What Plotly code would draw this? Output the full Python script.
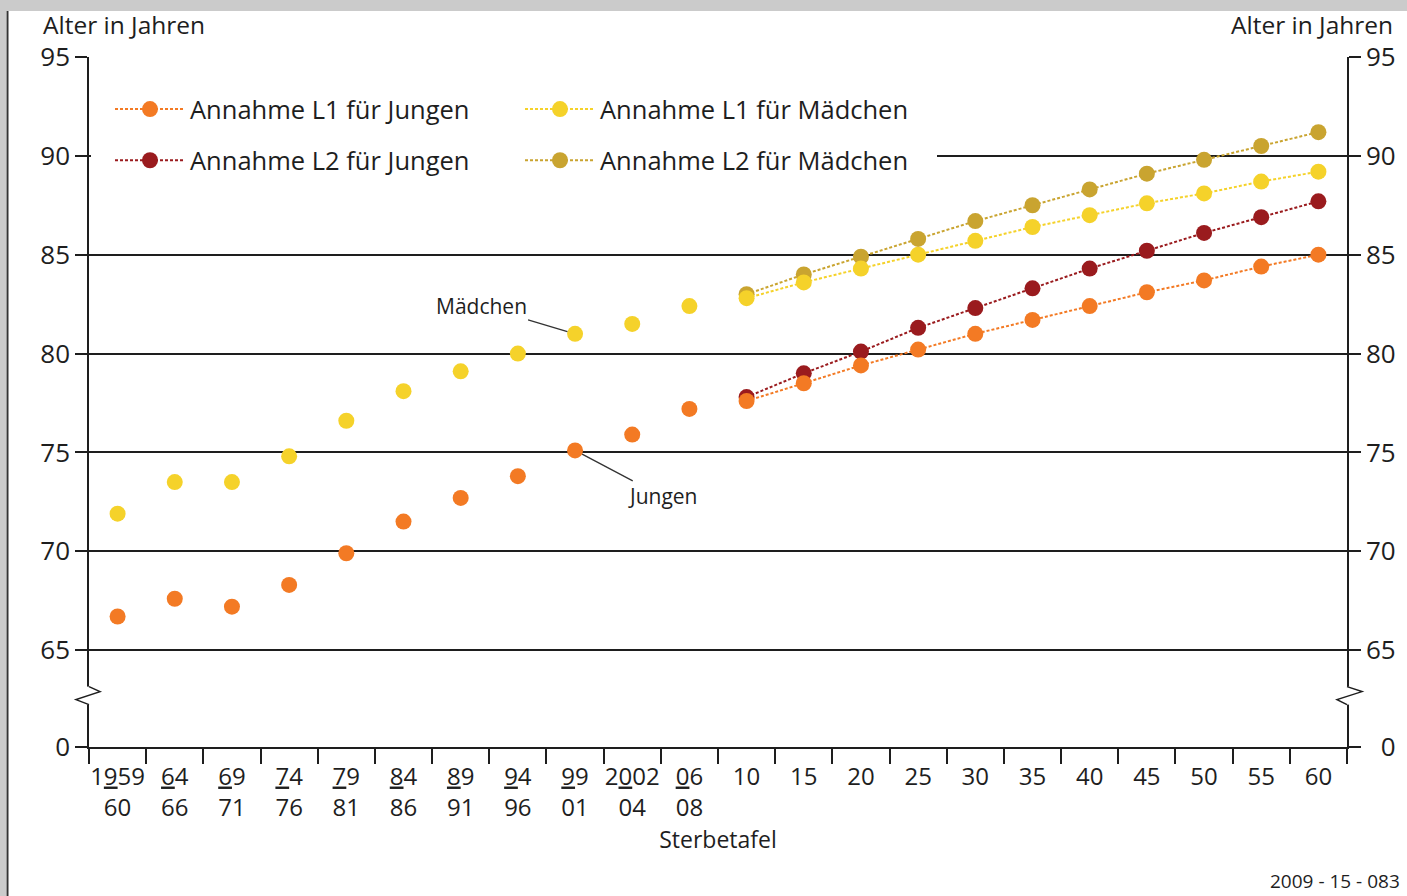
import plotly.graph_objects as go

# ---------------- data ----------------
categories = ["1959/60", "1964/66", "1969/71", "1974/76", "1979/81", "1984/86",
              "1989/91", "1994/96", "1999/01", "2002/04", "2006/08",
              "2010", "2015", "2020", "2025", "2030", "2035", "2040",
              "2045", "2050", "2055", "2060"]
tick_top = ["1959", "64", "69", "74", "79", "84", "89", "94", "99", "2002", "06",
            "10", "15", "20", "25", "30", "35", "40", "45", "50", "55", "60"]
tick_bottom = ["60", "66", "71", "76", "81", "86", "91", "96", "01", "04", "08",
               "", "", "", "", "", "", "", "", "", "", ""]

hist_cats = categories[:11]
jungen_hist = [66.7, 67.6, 67.2, 68.3, 69.9, 71.5, 72.7, 73.8, 75.1, 75.9, 77.2]
maedchen_hist = [71.9, 73.5, 73.5, 74.8, 76.6, 78.1, 79.1, 80.0, 81.0, 81.5, 82.4]

proj_cats = categories[11:]
l1_jungen = [77.6, 78.5, 79.4, 80.2, 81.0, 81.7, 82.4, 83.1, 83.7, 84.4, 85.0]
l2_jungen = [77.8, 79.0, 80.1, 81.3, 82.3, 83.3, 84.3, 85.2, 86.1, 86.9, 87.7]
l1_maedchen = [82.8, 83.6, 84.3, 85.0, 85.7, 86.4, 87.0, 87.6, 88.1, 88.7, 89.2]
l2_maedchen = [83.0, 84.0, 84.9, 85.8, 86.7, 87.5, 88.3, 89.1, 89.8, 90.5, 91.2]

y_tick_vals = [60.1, 65, 70, 75, 80, 85, 90, 95]   # 60.1 = display position of "0" (broken axis)
y_tick_text = ["0", "65", "70", "75", "80", "85", "90", "95"]
y_break = 62.7

# ---------------- styles ----------------
C_J1 = "#f37a24"
C_M1 = "#f5d22a"
C_J2 = "#9a1b1e"
C_M2 = "#c9a430"
INK = "#1e1e1e"
FONT = "'Open Sans', 'Noto Sans', sans-serif"

W, H = 1407, 896
L, R, T, B = 89, 60, 57, 149
PW, PH = W - L - R, H - T - B


def px(xp):
    return (xp - L) / PW


def py(yp):
    return (H - B - yp) / PH


def tick_label(top, bottom):
    if not bottom:
        return top
    i = (len(top) - 1) // 2
    return top[:i] + "<u>" + top[i] + "</u>" + top[i + 1:] + "<br>" + bottom


x_tick_text = [tick_label(a, b) for a, b in zip(tick_top, tick_bottom)]

fig = go.Figure()

fig.add_trace(go.Scatter(x=hist_cats, y=jungen_hist, mode="markers",
                         marker=dict(size=16, color=C_J1), showlegend=False))
fig.add_trace(go.Scatter(x=hist_cats, y=maedchen_hist, mode="markers",
                         marker=dict(size=16, color=C_M1), showlegend=False))

dash = "3px,2px"
fig.add_trace(go.Scatter(x=proj_cats, y=l2_jungen, mode="lines+markers",
                         name="Annahme L2 für Jungen", legend="legend", legendgroup="b",
                         legendrank=2,
                         line=dict(color=C_J2, width=2, dash=dash),
                         marker=dict(size=16, color=C_J2)))
fig.add_trace(go.Scatter(x=proj_cats, y=l2_maedchen, mode="lines+markers",
                         name="Annahme L2 für Mädchen", legend="legend2", legendgroup="d",
                         legendrank=2,
                         line=dict(color=C_M2, width=2, dash=dash),
                         marker=dict(size=16, color=C_M2)))
fig.add_trace(go.Scatter(x=proj_cats, y=l1_jungen, mode="lines+markers",
                         name="Annahme L1 für Jungen", legend="legend", legendgroup="a",
                         legendrank=1,
                         line=dict(color=C_J1, width=2, dash=dash),
                         marker=dict(size=16, color=C_J1)))
# drawn last, on the (identical) right-hand axis so that axis is rendered
fig.add_trace(go.Scatter(x=proj_cats, y=l1_maedchen, mode="lines+markers", yaxis="y2",
                         name="Annahme L1 für Mädchen", legend="legend2", legendgroup="c",
                         legendrank=1,
                         line=dict(color=C_M1, width=2, dash=dash),
                         marker=dict(size=16, color=C_M1)))

axis_common = dict(range=[y_tick_vals[0], 95], tickmode="array", tickvals=y_tick_vals,
                   ticks="outside", ticklen=12, tickwidth=1.5,
                   tickcolor=INK, showline=True, linecolor=INK, linewidth=1.5,
                   tickfont=dict(family=FONT, size=26, color=INK), zeroline=False)

legend_common = dict(xanchor="left", yanchor="top", bgcolor="rgba(0,0,0,0)",
                     itemwidth=70, tracegroupgap=15, traceorder="grouped",
                     font=dict(family=FONT, size=25.5, color=INK))

fig.update_layout(
    width=W, height=H,
    margin=dict(l=L, r=R, t=T, b=B),
    paper_bgcolor="white", plot_bgcolor="white",
    font=dict(family=FONT, color=INK),
    xaxis=dict(type="category", categoryorder="array", categoryarray=categories,
               range=[-0.5, len(categories) - 0.5],
               tickmode="array", tickvals=categories, ticktext=x_tick_text,
               tickangle=0, ticklabelstandoff=7,
               tickson="boundaries", ticks="outside", ticklen=15, tickwidth=1.5,
               tickcolor=INK, showline=True, linecolor=INK, linewidth=1.5,
               showgrid=False, tickfont=dict(family=FONT, size=24, color=INK),
               title=dict(text="Sterbetafel", font=dict(family=FONT, size=23, color=INK),
                          standoff=0)),
    yaxis=dict(**axis_common, ticktext=y_tick_text, side="left", showgrid=True,
               gridcolor=INK, gridwidth=1.5),
    yaxis2=dict(**axis_common, ticktext=["\u2007" + y_tick_text[0]] + y_tick_text[1:],
                side="right", overlaying="y", anchor="x", showgrid=False),
    legend=dict(x=px(110), y=py(86), **legend_common),
    legend2=dict(x=px(520), y=py(86), **legend_common),
)

shapes = []
# white cover behind legend (hides the 90 gridline there)
shapes.append(dict(type="rect", xref="paper", yref="paper", x0=px(91), x1=px(937),
                   y0=py(190), y1=py(78), fillcolor="white", line=dict(width=0),
                   layer="above"))
# axis breaks
for xa, zz in [(0, "M0,-9 L-13,-4 L11,4 L0,9"), (1, "M0,-9 L-10,-4 L15,4 L0,9")]:
    shapes.append(dict(type="line", xref="paper", xsizemode="pixel", xanchor=xa,
                       x0=0, x1=0, yref="y", ysizemode="pixel", yanchor=y_break,
                       y0=-9, y1=9, line=dict(color="white", width=4), layer="above"))
    shapes.append(dict(type="path", xref="paper", xsizemode="pixel", xanchor=xa,
                       yref="y", ysizemode="pixel", yanchor=y_break, path=zz,
                       line=dict(color=INK, width=1.5), layer="above"))
# scan frame: top gray band, left gray strip and dark edge
shapes.append(dict(type="rect", xref="paper", yref="paper", x0=px(0), x1=px(W),
                   y0=py(11), y1=py(0), fillcolor="#cbcbcb", line=dict(width=0),
                   layer="above"))
shapes.append(dict(type="rect", xref="paper", yref="paper", x0=px(0), x1=px(6),
                   y0=py(H), y1=py(11), fillcolor="#cbcbcb", line=dict(width=0),
                   layer="above"))
shapes.append(dict(type="line", xref="paper", yref="paper", x0=px(7.5), x1=px(7.5),
                   y0=py(H), y1=py(11), line=dict(color="#333333", width=2),
                   layer="above"))
fig.update_layout(shapes=shapes)

ann = []
ann.append(dict(text="Alter in Jahren", xref="paper", yref="paper", x=px(41), y=py(24),
                xanchor="left", yanchor="middle", showarrow=False,
                font=dict(family=FONT, size=24.5, color=INK)))
ann.append(dict(text="Alter in Jahren", xref="paper", yref="paper", x=px(1395), y=py(24),
                xanchor="right", yanchor="middle", showarrow=False,
                font=dict(family=FONT, size=24.5, color=INK)))
ann.append(dict(text="Mädchen", x=categories[8], y=maedchen_hist[8], xref="x", yref="y",
                ax=-94, ay=-28, showarrow=True, arrowhead=0, arrowwidth=1.3,
                arrowcolor="#333333", standoff=8,
                font=dict(family=FONT, size=21, color=INK)))
ann.append(dict(text="Jungen", x=categories[8], y=jungen_hist[8], xref="x",
                yref="y", ax=87, ay=46, showarrow=True, arrowhead=0, arrowwidth=1.3,
                arrowcolor="#333333", standoff=8,
                font=dict(family=FONT, size=21, color=INK)))
ann.append(dict(text="2009 - 15 - 083", xref="paper", yref="paper", x=px(1402), y=py(881),
                xanchor="right", yanchor="middle", showarrow=False,
                font=dict(family=FONT, size=19, color=INK)))
fig.update_layout(annotations=ann)

fig.write_html("out.html", config={"displayModeBar": False},
               post_script="document.body.style.margin='0';")
